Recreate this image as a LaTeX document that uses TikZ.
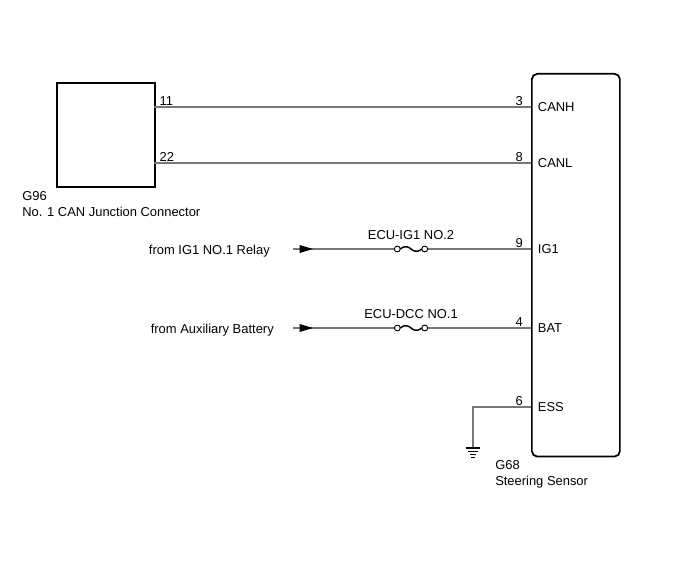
\documentclass[tikz,border=0pt]{standalone}
\usepackage{fontspec}
\setmainfont{Liberation Sans}
\usetikzlibrary{positioning}

\definecolor{wiregray}{RGB}{120,120,120}

\tikzset{
  unitbox/.style={draw, line width=1.3pt, inner sep=0pt, anchor=north west},
  wire/.style={draw=wiregray, line width=0.8pt},
  pinno/.style={inner sep=1pt, anchor=south east},
  pinname/.style={inner sep=0pt, anchor=west},
  feed/.style={fill=black},
}

\begin{document}
\begin{tikzpicture}[x=0.75pt, y=-0.75pt, font=\fontsize{9.7}{12}\selectfont]
  \useasboundingbox (0,0) rectangle (688,560);

  % connector G96 and sensor G68
  \node[unitbox, minimum width=73.5pt, minimum height=78pt] (g96) at (56,82) {};
  \node[unitbox, rounded corners=4pt, minimum width=66pt, minimum height=287pt] (g68) at (531,73) {};

  \node[anchor=north west, inner sep=0pt, align=left] (g96name) at (22,191) {G96\\No. 1 CAN Junction Connector};
  \node[anchor=north west, inner sep=0pt, align=left] (g68name) at (495,460) {G68\\Steering Sensor};

  % pins on G96
  \coordinate (p11) at (154,107);
  \coordinate (p22) at (154,163);
  \node[pinno, anchor=south west] at ([xshift=3pt]p11) {11};
  \node[pinno, anchor=south west] at ([xshift=3pt]p22) {22};

  % pins on G68
  \coordinate (p3) at (531,107);
  \coordinate (p8) at (531,163);
  \coordinate (p9) at (531,249);
  \coordinate (p4) at (531,328);
  \coordinate (p6) at (531,407);
  \node[pinno] at ([xshift=-5pt]p3) {3};
  \node[pinno] at ([xshift=-5pt]p8) {8};
  \node[pinno] at ([xshift=-5pt]p9) {9};
  \node[pinno] at ([xshift=-5pt]p4) {4};
  \node[pinno] at ([xshift=-5pt]p6) {6};
  \node[pinname] at ([xshift=5pt]p3) {CANH};
  \node[pinname] at ([xshift=5pt]p8) {CANL};
  \node[pinname] at ([xshift=5pt]p9) {IG1};
  \node[pinname] at ([xshift=5pt]p4) {BAT};
  \node[pinname] at ([xshift=5pt]p6) {ESS};

  % CAN lines
  \draw[wire] (p11) -- (p3);
  \draw[wire] (p22) -- (p8);

  % power feeds
  \node[anchor=east, inner sep=0pt] (ig1src) at (270,251) {from IG1 NO.1 Relay};
  \node[anchor=east, inner sep=0pt] (batsrc) at (274,330) {from Auxiliary Battery};
  \coordinate (ig1in) at (293,249);
  \coordinate (batin) at (293,328);
  \coordinate (fuse1) at (411,249);
  \coordinate (fuse2) at (411,328);
  \node[above=7pt of fuse1, inner sep=0pt] (fuse1name) {ECU-IG1 NO.2};
  \node[above=7pt of fuse2, inner sep=0pt] (fuse2name) {ECU-DCC NO.1};

  \foreach \src/\fu/\pin in {ig1in/fuse1/p9, batin/fuse2/p4} {
    \draw[wire] (\src) -- ([xshift=-12.5pt]\fu);
    \draw[wire] ([xshift=12.5pt]\fu) -- (\pin);
    \draw[line width=0.7pt] ([xshift=-10.3pt]\fu) circle (2.2pt);
    \draw[line width=0.7pt] ([xshift=10.3pt]\fu) circle (2.2pt);
    \draw[line width=1.1pt] ([xshift=-8.1pt]\fu) .. controls ([xshift=-4pt, yshift=3.2pt]\fu) and ([xshift=-1.5pt, yshift=1.2pt]\fu) .. (\fu)
      .. controls ([xshift=1.5pt, yshift=-1.2pt]\fu) and ([xshift=4pt, yshift=-3.2pt]\fu) .. ([xshift=8.1pt]\fu);
    \fill[feed] ([xshift=5pt]\src) -- ++(0,-3pt) -- ++(10pt,3pt) -- ++(-10pt,3pt) -- cycle;
  }

  % ground on ESS
  \coordinate (gnd) at (473,448);
  \draw[wire] (p6) -| (gnd);
  \draw[line width=0.9pt] ([xshift=-5.3pt]gnd) -- ([xshift=5.3pt]gnd);
  \draw[line width=0.8pt] ([xshift=-3.8pt, yshift=-2.5pt]gnd) -- ([xshift=3.8pt, yshift=-2.5pt]gnd);
  \draw[line width=0.8pt] ([xshift=-2.5pt, yshift=-4.8pt]gnd) -- ([xshift=2.5pt, yshift=-4.8pt]gnd);
  \draw[line width=0.8pt] ([xshift=-1.3pt, yshift=-7pt]gnd) -- ([xshift=1.3pt, yshift=-7pt]gnd);
\end{tikzpicture}
\end{document}
